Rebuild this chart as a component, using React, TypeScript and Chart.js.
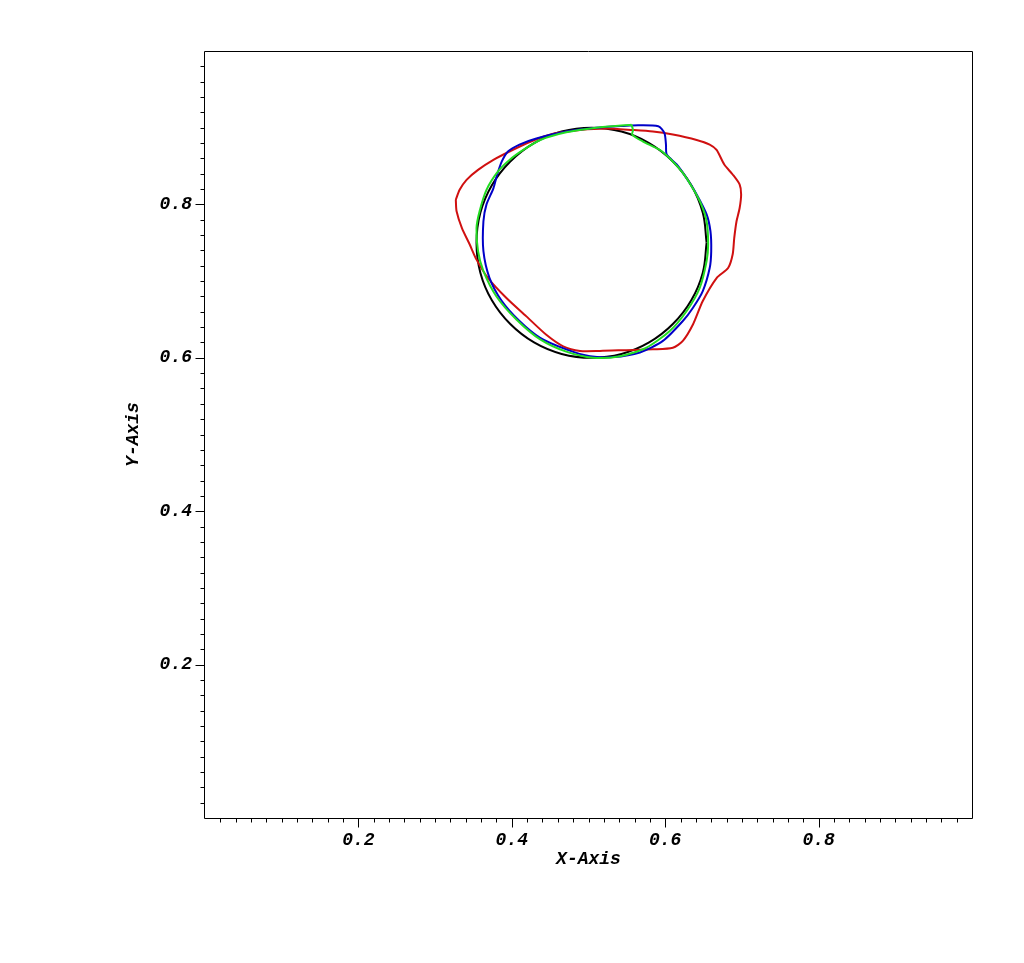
import React, { useEffect, useRef } from "react";
import { Chart, registerables } from "chart.js";

Chart.register(...registerables);

// Reference circle (black)
const blackX = [0.654, 0.649, 0.634, 0.610, 0.579, 0.543, 0.504, 0.465, 0.429, 0.398, 0.374, 0.359, 0.354, 0.359, 0.374, 0.398, 0.429, 0.465, 0.504, 0.543, 0.579, 0.610, 0.634, 0.649];
const blackY = [0.750, 0.789, 0.825, 0.856, 0.880, 0.895, 0.900, 0.895, 0.880, 0.856, 0.825, 0.789, 0.750, 0.711, 0.675, 0.644, 0.620, 0.605, 0.600, 0.605, 0.620, 0.644, 0.675, 0.711];

// Red contour
const redX = [0.327, 0.328, 0.335, 0.345, 0.354, 0.369, 0.393, 0.419, 0.445, 0.467, 0.489, 0.515, 0.549, 0.584, 0.610, 0.623, 0.636, 0.649, 0.667, 0.682, 0.688, 0.690, 0.693, 0.697, 0.699, 0.697, 0.688, 0.677, 0.667, 0.658, 0.641, 0.610, 0.584, 0.558, 0.523, 0.489, 0.454, 0.425, 0.397, 0.376, 0.356, 0.341, 0.332];
const redY = [0.806, 0.791, 0.769, 0.748, 0.728, 0.704, 0.678, 0.654, 0.630, 0.615, 0.609, 0.609, 0.610, 0.611, 0.613, 0.622, 0.643, 0.674, 0.704, 0.717, 0.735, 0.756, 0.778, 0.795, 0.813, 0.826, 0.839, 0.852, 0.871, 0.878, 0.884, 0.891, 0.895, 0.897, 0.899, 0.897, 0.892, 0.882, 0.869, 0.858, 0.845, 0.832, 0.819];

// Blue contour
const blueX = [0.554, 0.591, 0.599, 0.601, 0.602, 0.615, 0.628, 0.641, 0.654, 0.659, 0.660, 0.658, 0.649, 0.636, 0.623, 0.597, 0.567, 0.532, 0.502, 0.471, 0.437, 0.410, 0.387, 0.371, 0.363, 0.363, 0.367, 0.376, 0.381, 0.387, 0.395, 0.410, 0.432, 0.471, 0.510];
const blueY = [0.903, 0.902, 0.893, 0.878, 0.865, 0.852, 0.834, 0.813, 0.787, 0.765, 0.739, 0.717, 0.687, 0.665, 0.648, 0.622, 0.607, 0.601, 0.602, 0.611, 0.626, 0.648, 0.674, 0.704, 0.739, 0.778, 0.800, 0.821, 0.839, 0.856, 0.869, 0.878, 0.886, 0.895, 0.900];

// Green contour
const greenX = [0.556, 0.558, 0.557, 0.571, 0.593, 0.610, 0.623, 0.636, 0.647, 0.654, 0.656, 0.654, 0.645, 0.628, 0.606, 0.575, 0.541, 0.506, 0.471, 0.437, 0.406, 0.380, 0.363, 0.356, 0.354, 0.358, 0.367, 0.382, 0.397, 0.415, 0.437, 0.471, 0.510];
const greenY = [0.904, 0.897, 0.891, 0.882, 0.871, 0.856, 0.841, 0.821, 0.800, 0.778, 0.748, 0.726, 0.691, 0.661, 0.635, 0.613, 0.602, 0.600, 0.608, 0.624, 0.650, 0.680, 0.713, 0.739, 0.769, 0.791, 0.819, 0.843, 0.858, 0.871, 0.884, 0.894, 0.900];

// Axis ticks
const tickValues = [0.2, 0.4, 0.6, 0.8];
const tickLabels = ["0.2", "0.4", "0.6", "0.8"];
const minorStep = 0.02;

const FONT = { family: "'Liberation Mono', 'DejaVu Sans Mono', monospace", size: 18, weight: "bold" as const, style: "italic" as const };

function closed(xs: number[], ys: number[]) {
  const pts = xs.map((x, i) => ({ x, y: ys[i] }));
  pts.push({ x: xs[0], y: ys[0] });
  return pts;
}

const framePlugin = {
  id: "frame",
  afterDraw(chart: any) {
    const { ctx, chartArea } = chart;
    const { left, right, top, bottom } = chartArea;
    const xs = chart.scales.x;
    const ys = chart.scales.y;
    ctx.save();
    ctx.strokeStyle = "#000";
    ctx.lineWidth = 1;
    ctx.beginPath();
    ctx.rect(Math.round(left) - 0.5, Math.round(top) + 0.5, Math.round(right) - Math.round(left) + 1, Math.round(bottom) - Math.round(top));
    ctx.stroke();
    const n = Math.round(1 / minorStep);
    ctx.beginPath();
    for (let i = 1; i < n; i++) {
      const v = i * minorStep;
      const major = i % 10 === 0;
      const len = major ? 9 : 4;
      const px = Math.round(xs.getPixelForValue(v)) + 0.5;
      ctx.moveTo(px, Math.round(bottom) + 0.5);
      ctx.lineTo(px, Math.round(bottom) + 0.5 + len);
      const py = Math.round(ys.getPixelForValue(v)) + 0.5;
      ctx.moveTo(Math.round(left) - 0.5, py);
      ctx.lineTo(Math.round(left) - 0.5 - len, py);
    }
    ctx.stroke();
    ctx.restore();
  },
};

export default function App() {
  const ref = useRef<HTMLCanvasElement | null>(null);
  useEffect(() => {
    if (!ref.current) return;
    const lw = 2;
    const common = { showLine: true, pointRadius: 0, borderWidth: lw, fill: false, tension: 0.25 };
    const chart = new Chart(ref.current, {
      type: "scatter",
      data: {
        datasets: [
          { ...common, label: "green", data: closed(greenX, greenY), borderColor: "#22dd22", backgroundColor: "#22dd22" },
          { ...common, label: "blue", data: closed(blueX, blueY), borderColor: "#0000c8", backgroundColor: "#0000c8" },
          { ...common, label: "red", data: closed(redX, redY), borderColor: "#d01010", backgroundColor: "#d01010" },
          { ...common, label: "black", tension: 0.4, data: closed(blackX, blackY), borderColor: "#000000", backgroundColor: "#000000" },
        ],
      },
      options: {
        responsive: false,
        animation: false,
        devicePixelRatio: 1,
        layout: { padding: { top: 51, right: 52, left: 0, bottom: 0 } },
        plugins: { legend: { display: false }, tooltip: { enabled: false } },
        scales: {
          x: {
            type: "linear",
            position: "bottom",
            min: 0,
            max: 1,
            grid: { display: false, drawTicks: false },
            border: { display: false },
            afterBuildTicks: (s: any) => { s.ticks = tickValues.map((v) => ({ value: v })); },
            afterFit: (s: any) => { s.height = 145; },
            ticks: {
              autoSkip: false,
              maxRotation: 0,
              padding: 12,
              color: "#000",
              font: FONT,
              callback: (_v: any, i: number) => tickLabels[i],
            },
            title: { display: true, text: "X-Axis", color: "#000", font: FONT, padding: { top: 0, bottom: 93 } },
          },
          y: {
            type: "linear",
            position: "left",
            min: 0,
            max: 1,
            grid: { display: false, drawTicks: false },
            border: { display: false },
            afterBuildTicks: (s: any) => { s.ticks = tickValues.map((v) => ({ value: v })); },
            afterFit: (s: any) => { s.width = 205; },
            ticks: {
              autoSkip: false,
              padding: 13,
              color: "#000",
              font: FONT,
              callback: (_v: any, i: number) => tickLabels[i],
            },
            title: { display: true, text: "Y-Axis", color: "#000", font: FONT, padding: { top: 123, bottom: 0 } },
          },
        },
      },
      plugins: [framePlugin],
    } as any);
    return () => chart.destroy();
  }, []);
  return (
    <div style={{ position: "absolute", left: 0, top: 0, width: 1024, height: 963, background: "#fff" }}>
      <canvas ref={ref} width={1024} height={963} style={{ display: "block", width: 1024, height: 963 }} />
    </div>
  );
}
